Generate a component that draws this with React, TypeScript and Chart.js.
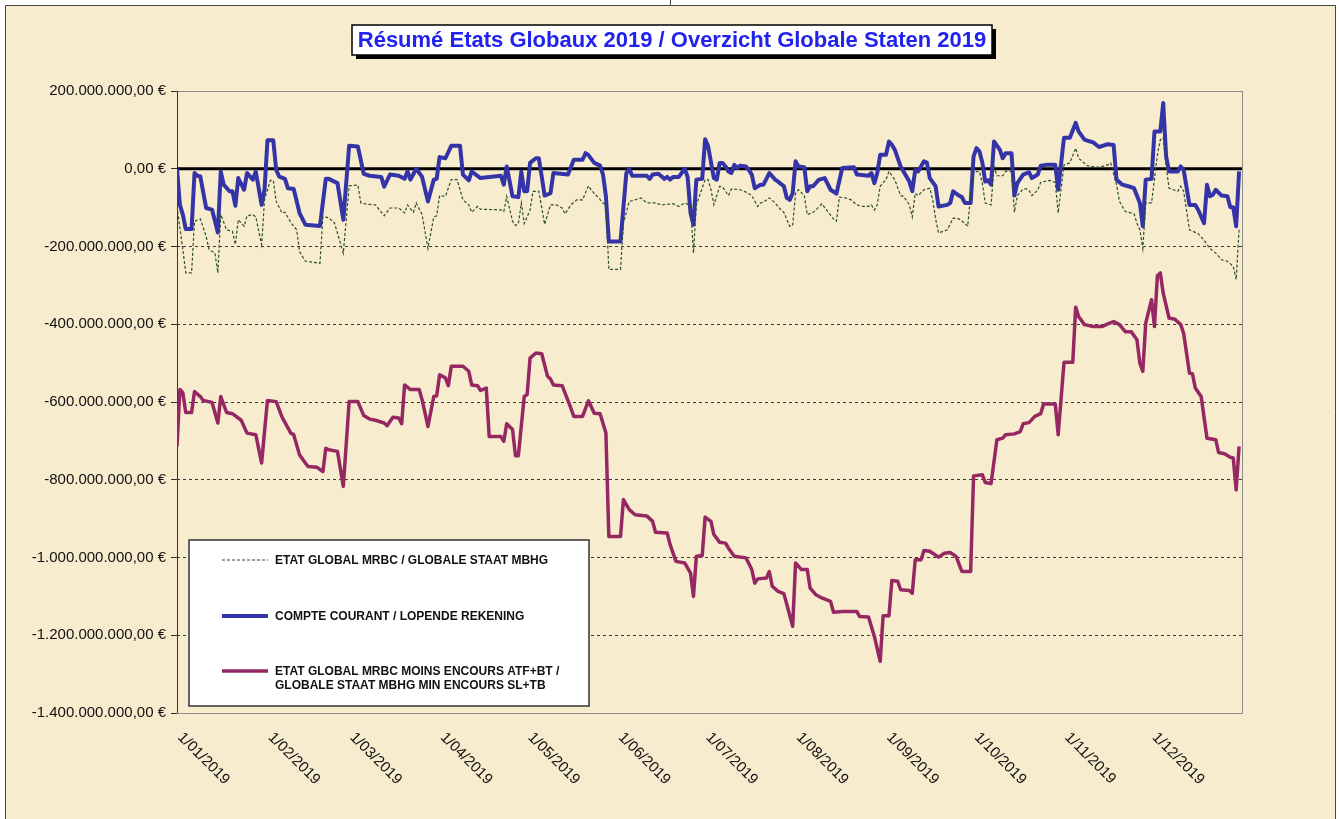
import React, { useEffect, useRef } from 'react';
import { Chart, registerables } from 'chart.js';

Chart.register(...registerables);

const W = 1339;
const H = 819;

const TITLE = 'Résumé Etats Globaux 2019 / Overzicht Globale Staten 2019';

// Month starts (day of year, 0 = 1 Jan 2019) and their labels
const monthDays = [0, 31, 59, 90, 120, 151, 181, 212, 243, 273, 304, 334];
const monthLabels = [
  '1/01/2019', '1/02/2019', '1/03/2019', '1/04/2019', '1/05/2019', '1/06/2019',
  '1/07/2019', '1/08/2019', '1/09/2019', '1/10/2019', '1/11/2019', '1/12/2019',
];

// Y axis range in millions of €
const yMinM = -1400;
const yMaxM = 200;
const yStepM = 200;

const seriesNames = [
  ['ETAT GLOBAL MRBC / GLOBALE STAAT MBHG'],
  ['COMPTE COURANT / LOPENDE REKENING'],
  ['ETAT GLOBAL MRBC MOINS ENCOURS ATF+BT /', 'GLOBALE STAAT MBHG MIN ENCOURS SL+TB'],
];

// ETAT GLOBAL (dotted) — day of year / value in millions €
const etatDays = [0, 2, 3, 5, 6, 8, 10, 11, 13, 14, 15, 17, 19, 20, 21, 23, 24, 26, 27, 29, 30, 32, 33, 34, 36, 37, 39, 41, 42, 44, 49, 50, 52, 54, 57, 59, 62, 63, 65, 68, 71, 73, 76, 78, 79, 81, 82, 84, 86, 88, 89, 90, 92, 94, 96, 98, 100, 101, 103, 104, 111, 112, 113, 115, 116, 117, 118, 119, 121, 122, 124, 126, 128, 130, 132, 133, 135, 137, 139, 141, 142, 144, 146, 147, 148, 152, 153, 155, 157, 159, 161, 164, 166, 170, 172, 174, 176, 177, 178, 181, 182, 183, 184, 186, 187, 189, 190, 193, 195, 197, 199, 200, 201, 203, 205, 207, 208, 210, 211, 212, 213, 215, 216, 218, 219, 221, 223, 225, 226, 227, 229, 231, 233, 235, 237, 238, 239, 240, 241, 243, 244, 246, 248, 249, 251, 252, 253, 254, 256, 258, 259, 260, 261, 263, 264, 266, 268, 270, 271, 272, 273, 275, 276, 277, 279, 280, 281, 283, 284, 286, 287, 288, 290, 291, 292, 293, 295, 296, 299, 301, 302, 304, 306, 308, 309, 312, 315, 316, 319, 320, 322, 323, 325, 328, 329, 330, 331, 332, 334, 336, 337, 338, 339, 340, 343, 344, 345, 347, 350, 352, 354, 356, 358, 360, 362, 363, 364];
const etatValues = [-97, -208, -268, -268, -135, -129, -174, -208, -217, -268, -118, -157, -161, -195, -131, -148, -121, -118, -124, -195, -80, -30, -30, -84, -114, -112, -138, -157, -213, -238, -243, -123, -126, -140, -217, -44, -42, -88, -91, -93, -121, -101, -101, -114, -93, -112, -88, -118, -205, -124, -121, -69, -71, -28, -28, -80, -93, -112, -97, -104, -106, -110, -71, -135, -146, -141, -88, -141, -106, -58, -58, -143, -93, -93, -101, -116, -93, -80, -80, -44, -55, -71, -88, -93, -259, -259, -140, -84, -80, -75, -88, -88, -93, -90, -97, -88, -95, -217, -93, -28, -28, -54, -93, -45, -47, -69, -52, -54, -60, -69, -97, -88, -86, -75, -88, -106, -112, -148, -146, -63, -54, -69, -118, -112, -106, -90, -110, -129, -135, -73, -75, -80, -93, -97, -97, -93, -106, -93, -45, -28, -7, -28, -69, -71, -93, -124, -63, -69, -54, -50, -80, -129, -165, -160, -157, -127, -129, -140, -148, -66, -8, -7, -37, -88, -93, 6, -18, -18, -7, -7, -112, -69, -52, -52, -55, -69, -55, -35, -30, -35, -114, 10, 15, 53, 27, 8, 4, 4, 10, 15, -41, -84, -110, -116, -140, -157, -205, -88, -88, 36, 75, 80, 6, -50, -58, -45, -58, -157, -167, -184, -205, -217, -234, -238, -251, -285, -157];

// COMPTE COURANT (blue)
const compteDays = [0, 1, 2, 3, 5, 6, 7, 8, 10, 12, 14, 15, 16, 18, 19, 20, 21, 23, 24, 26, 27, 29, 30, 31, 33, 34, 35, 37, 38, 40, 42, 44, 49, 51, 52, 55, 57, 59, 62, 64, 66, 70, 71, 73, 76, 78, 79, 80, 82, 84, 86, 88, 89, 90, 92, 94, 97, 98, 100, 101, 104, 111, 112, 113, 115, 117, 118, 119, 120, 121, 123, 124, 125, 126, 128, 129, 134, 136, 139, 140, 141, 143, 145, 146, 147, 148, 152, 154, 155, 156, 161, 162, 163, 165, 167, 168, 169, 170, 172, 174, 175, 176, 177, 178, 180, 181, 182, 184, 185, 186, 187, 188, 189, 190, 191, 192, 193, 195, 196, 197, 198, 200, 201, 203, 205, 206, 208, 209, 210, 211, 212, 213, 215, 216, 217, 218, 220, 222, 224, 226, 228, 232, 233, 237, 238, 239, 240, 241, 243, 244, 245, 246, 248, 249, 251, 252, 253, 254, 256, 257, 258, 260, 261, 264, 265, 266, 268, 269, 270, 272, 273, 274, 275, 276, 277, 278, 279, 280, 282, 283, 284, 286, 287, 288, 290, 292, 293, 295, 296, 298, 301, 302, 304, 306, 308, 309, 311, 313, 314, 316, 318, 319, 321, 322, 324, 326, 328, 330, 331, 332, 334, 335, 337, 338, 339, 340, 343, 344, 345, 347, 349, 350, 352, 353, 354, 355, 356, 358, 360, 361, 362, 363, 364];
const compteValues = [0, -93, -118, -155, -155, -11, -18, -20, -101, -105, -164, -7, -41, -58, -58, -95, -24, -54, -11, -28, -7, -93, -54, 73, 73, -3, -20, -26, -50, -52, -114, -144, -147, -26, -26, -37, -131, 59, 57, -13, -18, -21, -46, -15, -18, -26, -7, -28, 0, -21, -84, -28, -26, 30, 27, 59, 59, -15, -30, -7, -24, -18, -41, 6, -71, -73, -7, -58, -58, 15, 27, 27, -20, -69, -63, -11, -15, 23, 23, 40, 35, 15, 8, -15, -71, -187, -187, -11, 0, -18, -18, -26, -15, -13, -26, -21, -28, -21, -21, 0, -21, -114, -144, -28, -26, 76, 59, -24, -28, 15, 15, 6, -7, -11, 10, 2, 8, 6, -3, -15, -50, -41, -41, -11, -28, -33, -45, -75, -80, -63, 19, 6, 4, -58, -45, -45, -28, -24, -54, -64, 2, 4, -15, -18, -11, -37, -11, 36, 36, 70, 62, 49, 6, -7, -33, -58, -3, -7, 19, 16, -24, -45, -97, -93, -88, -58, -69, -73, -88, -88, 32, 53, 45, 16, -33, -30, -41, 70, 49, 27, 40, 40, -69, -37, -15, -9, -24, -15, 8, 10, 10, -54, 80, 80, 118, 96, 75, 70, 68, 56, 61, 63, 61, -28, -41, -45, -50, -88, -148, -28, -26, 96, 96, 169, 32, -7, -7, 6, -3, -93, -93, -106, -140, -41, -71, -67, -54, -69, -71, -99, -99, -148, -7];

// ETAT GLOBAL MOINS ENCOURS (purple)
const moinsDays = [0, 1, 2, 3, 5, 6, 8, 9, 12, 14, 15, 17, 19, 22, 24, 27, 29, 31, 34, 36, 39, 40, 42, 44, 45, 48, 50, 51, 52, 55, 57, 59, 62, 64, 66, 68, 71, 72, 74, 76, 77, 78, 80, 83, 84, 86, 88, 89, 90, 92, 93, 94, 98, 100, 101, 103, 104, 106, 107, 111, 112, 113, 115, 116, 117, 119, 120, 121, 123, 125, 127, 128, 129, 132, 135, 136, 139, 141, 143, 145, 147, 148, 152, 153, 155, 157, 161, 163, 164, 168, 169, 171, 174, 176, 177, 178, 180, 181, 183, 184, 186, 188, 189, 191, 195, 197, 198, 199, 202, 203, 204, 206, 208, 211, 212, 214, 216, 217, 219, 221, 224, 225, 228, 233, 234, 237, 239, 241, 242, 244, 245, 247, 248, 251, 252, 253, 255, 256, 258, 261, 263, 265, 267, 269, 272, 273, 276, 277, 279, 281, 283, 284, 287, 289, 290, 292, 294, 296, 297, 301, 302, 304, 307, 308, 309, 311, 314, 317, 319, 321, 323, 325, 327, 329, 330, 331, 332, 334, 335, 336, 337, 338, 340, 342, 344, 345, 347, 348, 349, 351, 353, 356, 357, 359, 361, 362, 363, 364];
const moinsValues = [-715, -568, -576, -627, -627, -573, -586, -596, -601, -654, -586, -627, -630, -647, -680, -684, -757, -596, -599, -639, -680, -684, -736, -757, -766, -768, -779, -719, -723, -727, -817, -599, -599, -635, -644, -647, -654, -661, -639, -641, -656, -556, -568, -568, -594, -663, -586, -584, -530, -538, -558, -508, -508, -521, -556, -558, -570, -564, -689, -689, -701, -656, -671, -738, -738, -586, -581, -487, -474, -476, -534, -541, -556, -558, -616, -637, -637, -597, -629, -630, -680, -946, -946, -851, -877, -890, -893, -907, -935, -937, -967, -1010, -1014, -1040, -1100, -997, -995, -896, -907, -941, -961, -963, -976, -997, -1001, -1031, -1066, -1055, -1053, -1036, -1074, -1087, -1093, -1177, -1014, -1031, -1031, -1079, -1096, -1104, -1113, -1141, -1139, -1139, -1152, -1153, -1203, -1267, -1150, -1150, -1059, -1061, -1083, -1085, -1092, -1006, -1006, -982, -984, -999, -989, -987, -997, -1036, -1036, -790, -787, -807, -810, -697, -693, -684, -682, -676, -656, -653, -637, -630, -605, -605, -684, -498, -498, -356, -380, -401, -406, -406, -399, -393, -401, -419, -419, -440, -500, -521, -397, -337, -406, -275, -268, -320, -384, -387, -401, -423, -526, -527, -564, -586, -693, -697, -730, -733, -742, -744, -826, -714];

const BG = '#F8ECCF';
const ETAT_COLOR = '#2B4F2C';
const COMPTE_COLOR = '#3434A8';
const MOINS_COLOR = '#952862';

const toPoints = (days: number[], vals: number[]) =>
  days.map((d, i) => ({ x: d, y: vals[i] * 1e6 }));

const euro = (v: number) => {
  const n = Math.round(v);
  const s = Math.abs(n).toString().replace(/\B(?=(\d{3})+(?!\d))/g, '.');
  return (n < 0 ? '-' : '') + s + ',00 €';
};

const framePlugin = {
  id: 'frame',
  beforeDraw(chart: any) {
    const ctx = chart.ctx;
    ctx.save();
    ctx.fillStyle = '#ffffff';
    ctx.fillRect(0, 0, W, H);
    ctx.fillStyle = BG;
    ctx.fillRect(5, 5, W - 9, H - 5);
    ctx.strokeStyle = '#444';
    ctx.lineWidth = 1;
    ctx.beginPath();
    ctx.moveTo(5.5, H);
    ctx.lineTo(5.5, 5.5);
    ctx.lineTo(W - 3.5, 5.5);
    ctx.lineTo(W - 3.5, H);
    ctx.moveTo(670.5, 0);
    ctx.lineTo(670.5, 5);
    ctx.stroke();
    ctx.restore();
  },
  beforeDatasetsDraw(chart: any) {
    const ctx = chart.ctx;
    const a = chart.chartArea;
    const y = chart.scales.y;
    ctx.save();
    ctx.strokeStyle = '#8c8c8c';
    ctx.lineWidth = 1;
    ctx.strokeRect(a.left + 0.5, a.top + 0.5, a.right - a.left, a.bottom - a.top);
    ctx.strokeStyle = '#333';
    ctx.beginPath();
    ctx.moveTo(a.left + 0.5, a.top);
    ctx.lineTo(a.left + 0.5, a.bottom);
    ctx.stroke();
    const y0 = y.getPixelForValue(0);
    ctx.strokeStyle = '#000';
    ctx.lineWidth = 3;
    ctx.beginPath();
    ctx.moveTo(a.left, y0);
    ctx.lineTo(a.right, y0);
    ctx.stroke();
    ctx.restore();
  },
  afterDraw(chart: any) {
    const ctx = chart.ctx;
    const a = chart.chartArea;
    const x = chart.scales.x;
    ctx.save();

    // X labels (rotated downwards)
    ctx.fillStyle = '#111';
    ctx.font = '15px "Liberation Sans", Arial, sans-serif';
    ctx.textAlign = 'left';
    ctx.textBaseline = 'middle';
    monthDays.forEach((d, i) => {
      const px = x.getPixelForValue(d);
      ctx.save();
      ctx.translate(px + 3, a.bottom + 22);
      ctx.rotate(Math.PI / 4);
      ctx.fillText(monthLabels[i], 0, 0);
      ctx.restore();
    });

    // Title box
    const tx = 352, ty = 25, tw = 640, th = 30;
    ctx.fillStyle = '#000';
    ctx.fillRect(tx + 4, ty + 4, tw, th);
    ctx.fillStyle = '#fff';
    ctx.fillRect(tx, ty, tw, th);
    ctx.strokeStyle = '#000';
    ctx.lineWidth = 1.5;
    ctx.strokeRect(tx, ty, tw, th);
    ctx.fillStyle = '#2222EE';
    ctx.font = 'bold 22px "Liberation Sans", Arial, sans-serif';
    ctx.textAlign = 'center';
    ctx.textBaseline = 'middle';
    ctx.fillText(TITLE, tx + tw / 2, ty + th / 2 + 1);

    // Legend box
    const lx = 189, ly = 540, lw = 400, lh = 166;
    ctx.fillStyle = '#fff';
    ctx.fillRect(lx, ly, lw, lh);
    ctx.strokeStyle = '#333';
    ctx.lineWidth = 1.5;
    ctx.strokeRect(lx, ly, lw, lh);
    const rows = [560, 616, 671];
    const styles = [
      { c: ETAT_COLOR, w: 1, dash: [3, 2] },
      { c: COMPTE_COLOR, w: 4, dash: [] },
      { c: MOINS_COLOR, w: 3.5, dash: [] },
    ];
    rows.forEach((ry, i) => {
      ctx.strokeStyle = styles[i].c;
      ctx.lineWidth = styles[i].w;
      ctx.setLineDash(styles[i].dash);
      ctx.beginPath();
      ctx.moveTo(222, ry);
      ctx.lineTo(268, ry);
      ctx.stroke();
      ctx.setLineDash([]);
      ctx.fillStyle = '#111';
      ctx.font = 'bold 12px "Liberation Sans", Arial, sans-serif';
      ctx.textAlign = 'left';
      ctx.textBaseline = 'middle';
      seriesNames[i].forEach((line, j) => {
        ctx.fillText(line, 275, ry + 1 + j * 14);
      });
    });
    ctx.restore();
  },
};

export default function App() {
  const ref = useRef<HTMLCanvasElement | null>(null);

  useEffect(() => {
    document.body.style.margin = '0';
    const canvas = ref.current;
    if (!canvas) return;
    const chart = new Chart(canvas, {
      type: 'line',
      data: {
        datasets: [
          {
            label: seriesNames[0].join(' '),
            data: toPoints(etatDays, etatValues),
            borderColor: ETAT_COLOR,
            borderWidth: 1.2,
            borderDash: [3, 2],
            pointRadius: 0,
            tension: 0,
            fill: false,
          },
          {
            label: seriesNames[1].join(' '),
            data: toPoints(compteDays, compteValues),
            borderColor: COMPTE_COLOR,
            borderWidth: 4,
            pointRadius: 0,
            tension: 0,
            fill: false,
            borderJoinStyle: 'round',
          },
          {
            label: seriesNames[2].join(' '),
            data: toPoints(moinsDays, moinsValues),
            borderColor: MOINS_COLOR,
            borderWidth: 3.5,
            pointRadius: 0,
            tension: 0,
            fill: false,
            borderJoinStyle: 'round',
          },
        ],
      },
      options: {
        animation: false,
        responsive: false,
        devicePixelRatio: 1,
        layout: { padding: { left: 5, top: 91, right: W - 1242, bottom: H - 713 } },
        plugins: {
          legend: { display: false },
          title: { display: false },
          tooltip: { enabled: false },
        },
        scales: {
          x: {
            type: 'linear',
            min: 0,
            max: 365,
            grid: { display: false },
            border: { display: false },
            ticks: { display: false },
            afterBuildTicks: (s: any) => {
              s.ticks = monthDays.map((d) => ({ value: d }));
            },
            afterFit: (s: any) => {
              s.height = 0;
            },
          },
          y: {
            min: yMinM * 1e6,
            max: yMaxM * 1e6,
            afterFit: (s: any) => {
              s.width = 172;
            },
            afterBuildTicks: (s: any) => {
              const t = [];
              for (let v = yMinM; v <= yMaxM; v += yStepM) t.push({ value: v * 1e6 });
              s.ticks = t;
            },
            border: { display: false, dash: [3, 3] },
            grid: {
              color: '#3a3a3a',
              lineWidth: 1,
              drawTicks: true,
              tickLength: 6,
              tickColor: '#333',
              tickBorderDash: [],
            },
            ticks: {
              autoSkip: false,
              padding: 5,
              color: '#111',
              font: { family: '"Liberation Sans", Arial, sans-serif', size: 15 },
              callback: (v: any) => euro(Number(v)),
            },
          },
        },
      },
      plugins: [framePlugin],
    });
    return () => chart.destroy();
  }, []);

  return (
    <div style={{ width: W, height: H }}>
      <canvas ref={ref} width={W} height={H} style={{ display: 'block' }} />
    </div>
  );
}
